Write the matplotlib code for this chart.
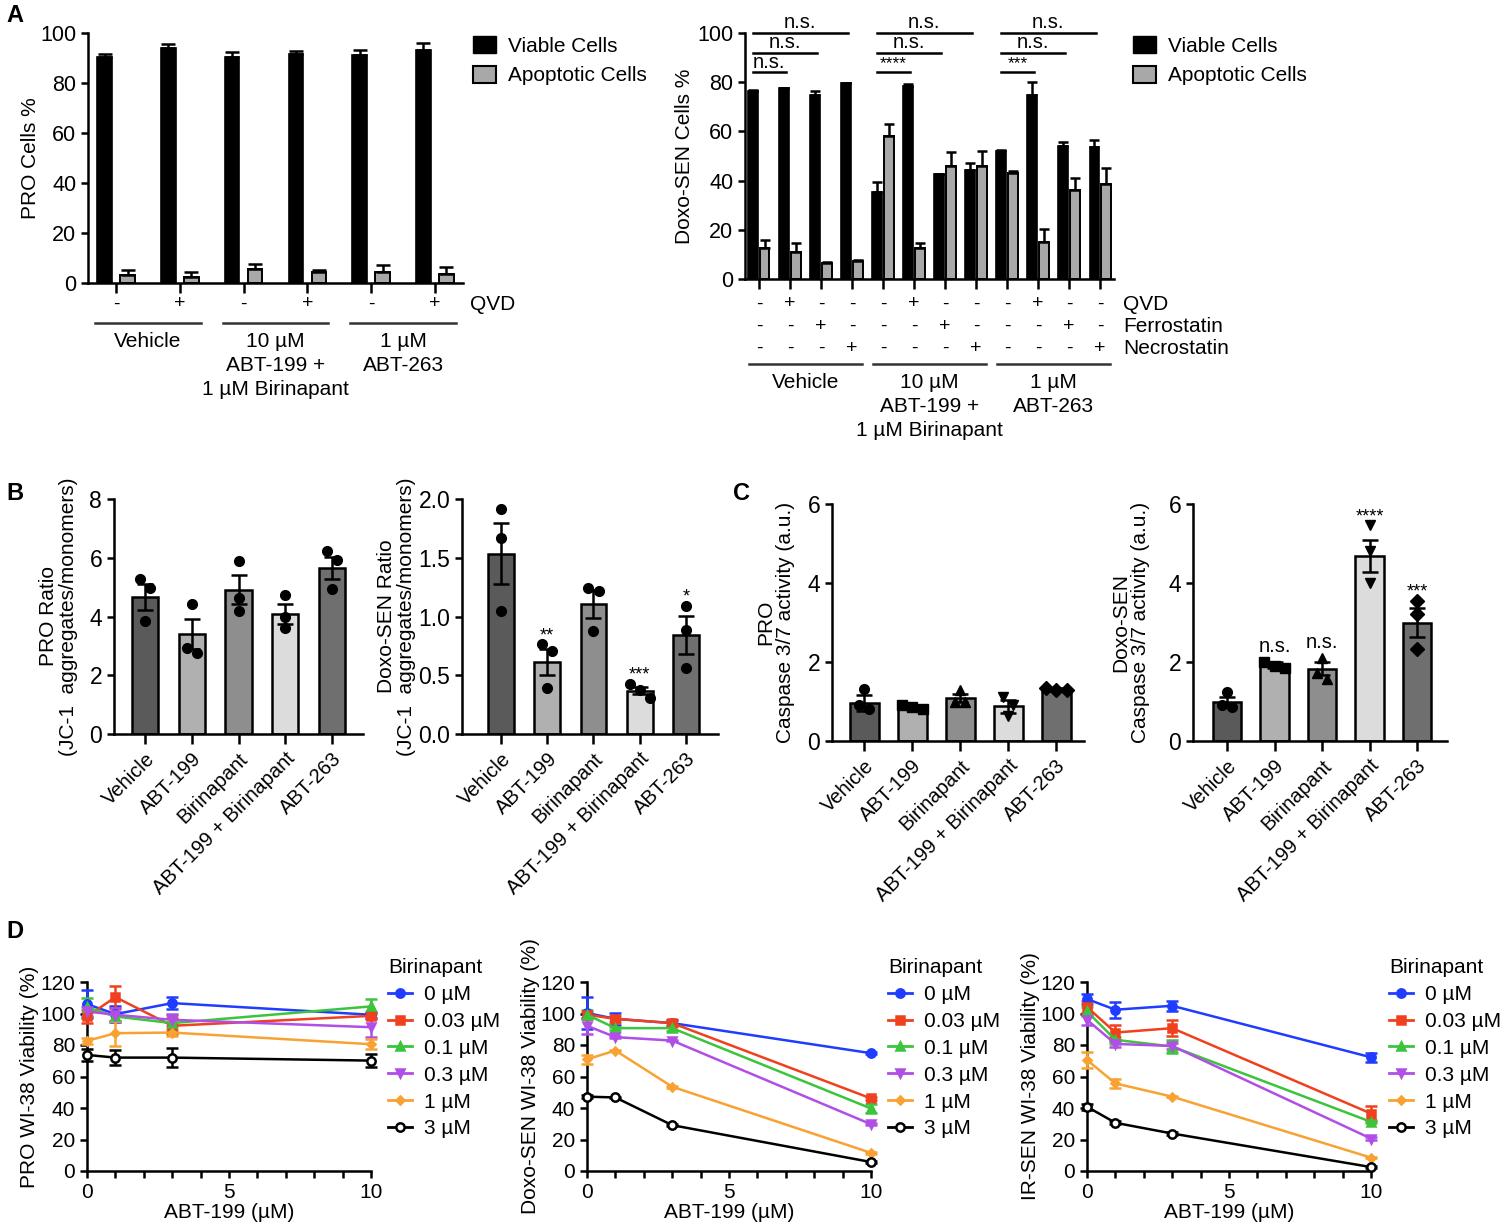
import numpy as np
import matplotlib
matplotlib.use("Agg")
import matplotlib.pyplot as plt
from matplotlib.patches import Patch
from matplotlib.lines import Line2D
from matplotlib.ticker import MultipleLocator
from matplotlib.transforms import blended_transform_factory

W, H = 1500, 1225

# ---------------- data ----------------
# A: annexin staining, viable / apoptotic %
a_groups = ["Vehicle", "10 µM\nABT-199 +\n1 µM Birinapant", "1 µM\nABT-263"]
a1_qvd = ["-", "+", "-", "+", "-", "+"]
a1_viable = [90.4, 94.1, 90.4, 91.7, 91.3, 93.3]
a1_viable_err = [1.3, 1.5, 2.1, 1.3, 1.9, 2.7]
a1_apop = [3.3, 2.4, 5.7, 4.4, 4.4, 3.7]
a1_apop_err = [2.0, 1.9, 2.0, 0.9, 2.7, 2.7]

a2_qvd = ["-", "+", "-", "-"] * 3
a2_ferro = ["-", "-", "+", "-"] * 3
a2_necro = ["-", "-", "-", "+"] * 3
a2_viable = [76.5, 77.5, 75.0, 79.5, 35.5, 78.5, 42.5, 44.5, 52.0, 75.0, 54.0, 53.5]
a2_viable_err = [0.5, 0.3, 1.5, 0.3, 4.0, 0.7, 0.3, 2.5, 0.5, 5.0, 1.5, 3.0]
a2_apop = [12.5, 11.0, 6.5, 7.5, 58.0, 12.5, 46.0, 46.0, 43.0, 15.0, 36.0, 38.5]
a2_apop_err = [3.5, 3.5, 0.3, 0.3, 5.0, 2.0, 5.5, 6.0, 0.7, 5.5, 5.0, 6.5]
# comparisons vs. first bar of each group: with 4th, 3rd, 2nd bar
a2_sig = [["n.s.", "n.s.", "n.s."], ["n.s.", "n.s.", "****"], ["n.s.", "n.s.", "***"]]

# B / C
treatments = ["Vehicle", "ABT-199", "Birinapant", "ABT-199 + Birinapant", "ABT-263"]
bar_grays = ["#5a5a5a", "#b0b0b0", "#8e8e8e", "#dcdcdc", "#6f6f6f"]

b1_mean = [4.66, 3.41, 4.91, 4.09, 5.65]
b1_sem = [0.45, 0.51, 0.50, 0.35, 0.38]
b1_points = [[5.28, 4.97, 3.83], [4.43, 2.92, 2.75], [5.90, 4.63, 4.20],
             [4.74, 4.00, 3.60], [6.22, 5.93, 4.93]]

b2_mean = [1.534, 0.616, 1.105, 0.37, 0.844]
b2_sem = [0.26, 0.11, 0.12, 0.03, 0.16]
b2_points = [[1.915, 1.665, 1.05], [0.764, 0.71, 0.395], [1.24, 1.22, 0.878],
             [0.426, 0.375, 0.31], [1.09, 0.886, 0.56]]
b2_sig = ["", "**", "", "***", "*"]

c_markers = ["o", "s", "^", "v", "D"]
c1_mean = [0.96, 0.88, 1.09, 0.88, 1.30]
c1_sem = [0.20, 0.04, 0.11, 0.17, 0.03]
c1_points = [[1.32, 0.90, 0.80], [0.92, 0.86, 0.80], [1.30, 0.98, 1.00],
             [1.11, 0.92, 0.63], [1.34, 1.28, 1.30]]

c2_mean = [1.00, 1.92, 1.83, 4.69, 3.00]
c2_sem = [0.12, 0.07, 0.17, 0.41, 0.36]
c2_points = [[1.23, 0.90, 0.87], [2.00, 1.90, 1.85], [2.11, 1.73, 1.56],
             [5.46, 4.82, 4.01], [3.55, 3.21, 2.32]]
c2_sig = ["", "n.s.", "n.s.", "****", "***"]

# D: viability vs ABT-199 dose, one line per birinapant dose
d_x = [0, 1, 3, 10]
d_labels = ["0 µM", "0.03 µM", "0.1 µM", "0.3 µM", "1 µM", "3 µM"]
d_colors = ["#1f3cff", "#f0401e", "#3cc43c", "#b04ee6", "#f8a233", "black"]
d_markers = ["o", "s", "^", "v", "D", "o"]

d1_mean = [[106.0, 99.6, 106.6, 99.2], [98.1, 110.4, 92.2, 98.5], [104.0, 98.1, 93.9, 104.5],
           [101.3, 99.2, 96.0, 91.3], [82.6, 87.5, 87.9, 80.5], [73.7, 72.0, 72.0, 70.1]]
d1_err = [[9, 5, 4, 2], [4, 7, 5, 2], [6, 3, 5, 5], [3, 4, 4, 6], [2, 8, 2, 3], [4, 5, 6, 4]]

d2_mean = [[100.3, 96.6, 93.9, 74.8], [99.2, 96.6, 93.9, 46.1], [99.2, 90.7, 90.7, 39.7],
           [92.2, 85.0, 82.8, 29.7], [70.9, 76.5, 53.5, 11.5], [47.2, 46.7, 29.1, 5.7]]
d2_err = [[10, 4, 2, 0.5], [2, 2, 2, 1], [3, 1, 2, 3], [5, 0.5, 0.5, 0.5],
          [3, 0.5, 0.5, 0.5], [1, 0.5, 0.5, 0.5]]

d3_mean = [[109.2, 102.4, 104.9, 72.2], [104.1, 87.9, 90.7, 36.5], [101.3, 83.3, 79.0, 31.2],
           [96.0, 80.7, 79.4, 20.6], [70.5, 55.6, 47.2, 8.5], [40.8, 30.6, 23.8, 2.5]]
d3_err = [[3, 5, 3, 3], [4, 5, 5, 5], [3, 2, 4, 1], [3, 2, 2, 1], [5, 3, 0.5, 0.5], [2, 1, 1, 0.5]]

# ---------------- style ----------------
plt.rcParams["font.family"] = ["Liberation Sans", "DejaVu Sans"]
plt.rcParams["font.size"] = 15
plt.rcParams["axes.linewidth"] = 1.8
for k in ["xtick", "ytick"]:
    plt.rcParams[k + ".major.width"] = 1.8
    plt.rcParams[k + ".minor.width"] = 1.8
    plt.rcParams[k + ".major.size"] = 5
    plt.rcParams[k + ".minor.size"] = 4
    plt.rcParams[k + ".labelsize"] = 15

fig = plt.figure(figsize=(W / 100, H / 100), dpi=100)


def add_ax(left, top, right, bottom):
    ax = fig.add_axes([left / W, 1 - bottom / H, (right - left) / W, (bottom - top) / H])
    ax.spines["top"].set_visible(False)
    ax.spines["right"].set_visible(False)
    return ax


def ftext(x, y, s, **kw):
    fig.text(x / W, 1 - y / H, s, **kw)


def label_x(ax, px_right):
    # ylabel right edge at pixel px_right
    l = ax.get_position().x0 * W
    w = ax.get_position().width * W
    return (px_right - l) / w


# ---------------- panel A ----------------
def viability_bars(ax, viable, viable_err, apop, apop_err, off, width, cap):
    x = np.arange(len(viable))
    z = np.zeros(len(x))
    ax.bar(x - off, viable, width, color="black", edgecolor="black", linewidth=1.2, zorder=2)
    ax.bar(x + off, apop, width, color="#a8a8a8", edgecolor="black", linewidth=1.4, zorder=2)
    ax.errorbar(x - off, viable, yerr=[z, viable_err], fmt="none", ecolor="black",
                elinewidth=1.8, capsize=cap, capthick=1.8, zorder=3)
    ax.errorbar(x + off, apop, yerr=[z, apop_err], fmt="none", ecolor="black",
                elinewidth=1.8, capsize=cap, capthick=1.8, zorder=3)
    ax.set_ylim(0, 100)
    ax.set_yticks(range(0, 101, 20))
    ax.set_xticks(x)
    ax.set_xticklabels([])
    ax.tick_params(axis="x", length=7)
    ax.tick_params(axis="y", labelsize=15.5)
    return x


def sign_rows(ax, rows, names, ys, name_x):
    tr = blended_transform_factory(ax.transData, fig.transFigure)
    for row, name, y in zip(rows, names, ys):
        for i, s in enumerate(row):
            ax.text(i, 1 - y / H, s, transform=tr, ha="center", va="center", fontsize=14)
        ftext(name_x, y, name, ha="left", va="center", fontsize=15)


def group_labels(ax, groups, size, line_y, text_y):
    tr = blended_transform_factory(ax.transData, fig.transFigure)
    for g, name in enumerate(groups):
        a, b = g * size, g * size + size - 1
        ax.plot([a - 0.33, b + 0.33], [1 - line_y / H] * 2, transform=tr, color="#333333",
                lw=1.8, clip_on=False)
        ax.text((a + b) / 2, 1 - text_y / H, name, transform=tr, ha="center", va="top",
                fontsize=15, linespacing=1.32)


axA1 = add_ax(88, 33, 463, 283)
viability_bars(axA1, a1_viable, a1_viable_err, a1_apop, a1_apop_err, 0.18, 0.23, 5)
axA1.set_xlim(-0.44, 5.44)
axA1.set_ylabel("PRO Cells %", fontsize=15)
axA1.yaxis.set_label_coords(label_x(axA1, 40), 0.5)
sign_rows(axA1, [a1_qvd], ["QVD"], [304], 470)
group_labels(axA1, a_groups, 2, 323, 332)

axA2 = add_ax(745, 33, 1114, 279)
viability_bars(axA2, a2_viable, a2_viable_err, a2_apop, a2_apop_err, 0.19, 0.30, 3.5)
axA2.set_xlim(-0.45, 11.45)
axA2.set_ylabel("Doxo-SEN Cells %", fontsize=15)
axA2.yaxis.set_label_coords(label_x(axA2, 694), 0.5)
sign_rows(axA2, [a2_qvd, a2_ferro, a2_necro], ["QVD", "Ferrostatin", "Necrostatin"],
          [304, 326, 348], 1123)
group_labels(axA2, a_groups, 4, 364, 373)

for g, sigs in enumerate(a2_sig):
    first = 4 * g
    for k, (s, yv) in enumerate(zip(sigs, [100, 92, 84])):
        end = first + 3 - k - 0.13
        axA2.plot([first - 0.2, end], [yv, yv], color="black", lw=1.8, clip_on=False)
        stars = s.startswith("*")
        axA2.text((first - 0.2 + end) / 2, yv + 0.3, s, ha="center",
                  va="bottom", fontsize=12.5 if stars else 14.5, clip_on=False)

for yy, ax_left in [(36, 473), (36, 1133)]:
    fig.legend(handles=[Patch(facecolor="black", edgecolor="black"),
                        Patch(facecolor="#a8a8a8", edgecolor="black", linewidth=1.5)],
               labels=["Viable Cells", "Apoptotic Cells"], loc="upper left",
               bbox_to_anchor=(ax_left / W, 1 - yy / H), frameon=False, fontsize=15,
               handlelength=1.1, handleheight=0.85, handletextpad=0.6, labelspacing=0.5,
               borderpad=0, borderaxespad=0)


# ---------------- panels B and C ----------------
def spread(vals, thr, step=0.2):
    vals = np.asarray(vals)
    order = np.argsort(vals)[::-1]
    offs = np.zeros(len(vals))
    clusters = [[order[0]]]
    for i in order[1:]:
        if vals[clusters[-1][-1]] - vals[i] < thr:
            clusters[-1].append(i)
        else:
            clusters.append([i])
    for c in clusters:
        n = len(c)
        for j, idx in enumerate(c):
            offs[idx] = (j - (n - 1) / 2) * step
    return offs


def dot_bars(ax, mean, sem, points, markers, ymax, step, ylabel, sig=None, ms=7, width=0.56):
    x = np.arange(len(mean))
    ax.bar(x, mean, width, color=bar_grays, edgecolor="black", linewidth=1.8, zorder=1)
    ax.errorbar(x, mean, yerr=sem, fmt="none", ecolor="black", elinewidth=1.8,
                capsize=6, capthick=1.8, zorder=3)
    for i, pts in enumerate(points):
        offs = spread(pts, 0.045 * ymax, 0.22)
        ax.plot(i + offs, pts, linestyle="none", marker=markers[i], color="black",
                ms=ms, zorder=4, clip_on=False)
        if sig and sig[i]:
            top = max(max(pts), mean[i] + sem[i])
            stars = sig[i].startswith("*")
            ax.text(i, top + (0.0 if stars else 0.025) * ymax, sig[i], ha="center",
                    va="bottom", fontsize=13 if stars else 14.5)
    ax.set_ylim(0, ymax)
    ax.set_yticks(np.arange(0, ymax + step / 2, step))
    ax.set_xticks(x)
    ax.set_xticklabels(treatments, rotation=45, ha="right", rotation_mode="anchor",
                       fontsize=14.5)
    ax.tick_params(axis="x", length=7, pad=4)
    ax.tick_params(axis="y", labelsize=16.5)
    ax.set_ylabel(ylabel, fontsize=15, linespacing=1.05)


axB1 = add_ax(114, 499, 363, 734)
dot_bars(axB1, b1_mean, b1_sem, b1_points, ["o"] * 5, 8, 2,
         "PRO Ratio\n(JC-1  aggregates/monomers)")
axB1.set_xlim(-0.66, 4.66)
axB1.yaxis.set_label_coords(label_x(axB1, 78), 0.5)

axB2 = add_ax(462, 499, 718, 734)
dot_bars(axB2, b2_mean, b2_sem, b2_points, ["o"] * 5, 2.0, 0.5,
         "Doxo-SEN Ratio\n(JC-1  aggregates/monomers)", sig=b2_sig)
axB2.set_yticks([0, 0.5, 1.0, 1.5, 2.0], labels=["0.0", "0.5", "1.0", "1.5", "2.0"])
axB2.set_xlim(-0.84, 4.69)
axB2.yaxis.set_label_coords(label_x(axB2, 416), 0.5)

axC1 = add_ax(832, 504, 1084, 741)
dot_bars(axC1, c1_mean, c1_sem, c1_points, c_markers, 6, 2,
         "PRO\nCaspase 3/7 activity (a.u.)", ms=7, width=0.6)
axC1.set_xlim(-0.67, 4.58)
axC1.yaxis.set_label_coords(label_x(axC1, 795), 0.5)

axC2 = add_ax(1193, 504, 1447, 741)
dot_bars(axC2, c2_mean, c2_sem, c2_points, c_markers, 6, 2,
         "Doxo-SEN\nCaspase 3/7 activity (a.u.)", sig=c2_sig, ms=7, width=0.6)
axC2.set_xlim(-0.72, 4.63)
axC2.yaxis.set_label_coords(label_x(axC2, 1150), 0.5)


# ---------------- panel D ----------------
def dose_lines(ax, means, errs, ylabel, leg_x):
    handles = []
    for m, e, c, mk in zip(means, errs, d_colors, d_markers):
        open_m = c == "black"
        ax.errorbar(d_x, m, yerr=e, color=c, marker=mk, ms=6 if mk != "D" else 4.5,
                    mfc="white" if open_m else c, mec=c, mew=1.8, lw=1.8,
                    elinewidth=1.8, capsize=4, capthick=1.8, clip_on=False, zorder=3)
        handles.append(Line2D([], [], color=c, marker=mk, ms=6 if mk != "D" else 4.5,
                              mfc="white" if open_m else c, mec=c, mew=1.8, lw=2))
    ax.set_xlim(0, 10)
    ax.set_ylim(0, 120)
    ax.set_yticks(range(0, 121, 20))
    ax.set_xticks([0, 5, 10])
    ax.xaxis.set_minor_locator(MultipleLocator(1))
    ax.tick_params(axis="x", which="both", length=5)
    ax.set_xlabel("ABT-199 (µM)", fontsize=15, labelpad=1)
    ax.set_ylabel(ylabel, fontsize=15)
    leg = fig.legend(handles=handles, labels=d_labels, title="Birinapant", loc="upper left",
                     bbox_to_anchor=(leg_x / W, 1 - 958 / H), frameon=False, fontsize=15,
                     title_fontsize=15, handlelength=1.15, handletextpad=0.6,
                     labelspacing=0.38, borderpad=0, borderaxespad=0, alignment="left")
    return leg


axD1 = add_ax(87, 982, 371, 1171)
dose_lines(axD1, d1_mean, d1_err, "PRO WI-38 Viability (%)", 388)
axD1.yaxis.set_label_coords(label_x(axD1, 39), 0.5)

axD2 = add_ax(587, 982, 871, 1171)
dose_lines(axD2, d2_mean, d2_err, "Doxo-SEN WI-38 Viability (%)", 888)
axD2.yaxis.set_label_coords(label_x(axD2, 540), 0.5)

axD3 = add_ax(1087, 982, 1371, 1171)
dose_lines(axD3, d3_mean, d3_err, "IR-SEN WI-38 Viability (%)", 1389)
axD3.yaxis.set_label_coords(label_x(axD3, 1040), 0.5)

# panel letters
for letter, x, y in [("A", 6, 16), ("B", 6, 494), ("C", 733, 494), ("D", 6, 932)]:
    ftext(x, y, letter, fontsize=17, fontweight="bold", ha="left", va="center")

fig.savefig("out.png", dpi=100)
